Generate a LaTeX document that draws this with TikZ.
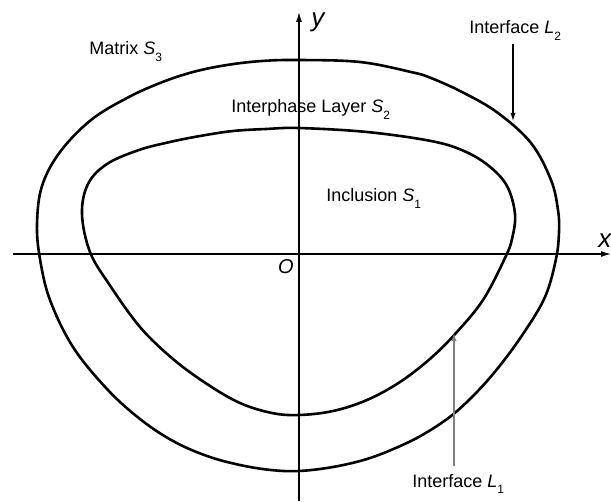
\documentclass[tikz,border=0pt]{standalone}
\usepackage{fontspec}
\setmainfont{Liberation Sans}
\usepackage{tikz}
\usetikzlibrary{arrows.meta}
\newcommand{\lowsub}[1]{\raisebox{-3.2pt}{\fontsize{6}{7}\selectfont #1}}

\begin{document}
\begin{tikzpicture}[x=0.5pt, y=0.5pt, font=\fontsize{9}{11}\selectfont,
    boundary/.style={line width=1.3pt, line join=round},
    axis/.style={line width=0.6pt, -{Latex[length=5pt,width=3pt]}},
    pointer/.style={line width=0.6pt, -{Latex[length=4pt,width=2.6pt]}},
    axislabel/.style={font=\fontsize{13}{15}\selectfont\itshape, inner sep=0pt, anchor=base west},
    region/.style={anchor=base west, inner sep=0pt}]
    \useasboundingbox (-299,-249) rectangle (312,254);

    % Interface L2 (outer boundary)
    \draw[boundary] plot[smooth cycle, tension=0.6] coordinates {(0,194) (61,192) (112,182) (132,176)
        (165,161) (199,141) (232,111) (252,74) (259,44) (260,22) (257,-5) (246,-43)
        (224,-80) (199,-114) (176,-140) (152,-162) (125,-180) (99,-193) (68,-205)
        (34,-213) (0,-217) (-28,-216) (-59,-211) (-92,-202) (-126,-187) (-159,-165)
        (-192,-135) (-226,-93) (-249,-46) (-259,-5) (-262,30) (-257,68) (-239,102)
        (-208,134) (-172,156) (-139,171) (-106,182) (-72,189) (-37,193)};

    % Interface L1 (inner boundary)
    \draw[boundary] plot[smooth cycle, tension=0.6] coordinates {(0,126) (68,122) (132,113) (165,103)
        (190,88) (208,68) (216,40) (213,15) (206,-4) (184,-46) (157,-79) (132,-104)
        (101,-128) (68,-146) (34,-157) (0,-161) (-27,-159) (-59,-149) (-92,-130)
        (-126,-105) (-159,-73) (-190,-30) (-209,2) (-217,40) (-211,70) (-192,90)
        (-160,104) (-129,112) (-99,118) (-66,123) (-33,125)};

    % Axes
    \coordinate (xstart) at (-286,0);
    \coordinate (xend) at (312,0);
    \coordinate (ystart) at (0,-247);
    \coordinate (yend) at (0,242);
    \draw[axis] (xstart) -- (xend);
    \draw[axis] (ystart) -- (yend);
    \node[axislabel] (xlab) at (299,6) {x};
    \node[axislabel] (ylab) at (12,227) {y};
    \node[font=\fontsize{10}{12}\selectfont\itshape, inner sep=0pt] (olab) at (-13,-13) {O};

    % Regions
    \node[region] (matrix) at (-210,199) {Matrix \textit{S}\lowsub{3}};
    \node[region] (layer) at (-68,141) {Interphase Layer \textit{S}\lowsub{2}};
    \node[region] (inclusion) at (27,52) {Inclusion \textit{S}\lowsub{1}};

    % Interfaces
    \node[region] (ltwo) at (170,220) {Interface \textit{L}\lowsub{2}};
    \node[region] (lone) at (113,-233) {Interface \textit{L}\lowsub{1}};
    \coordinate (ltwotail) at (214,210);
    \coordinate (ltwotip) at (214,133);
    \draw[pointer] (ltwotail) -- (ltwotip);
    \coordinate (lonetail) at (155,-212);
    \coordinate (lonetip) at (155,-79);
    \draw[pointer, gray] (lonetail) -- (lonetip);
\end{tikzpicture}
\end{document}
